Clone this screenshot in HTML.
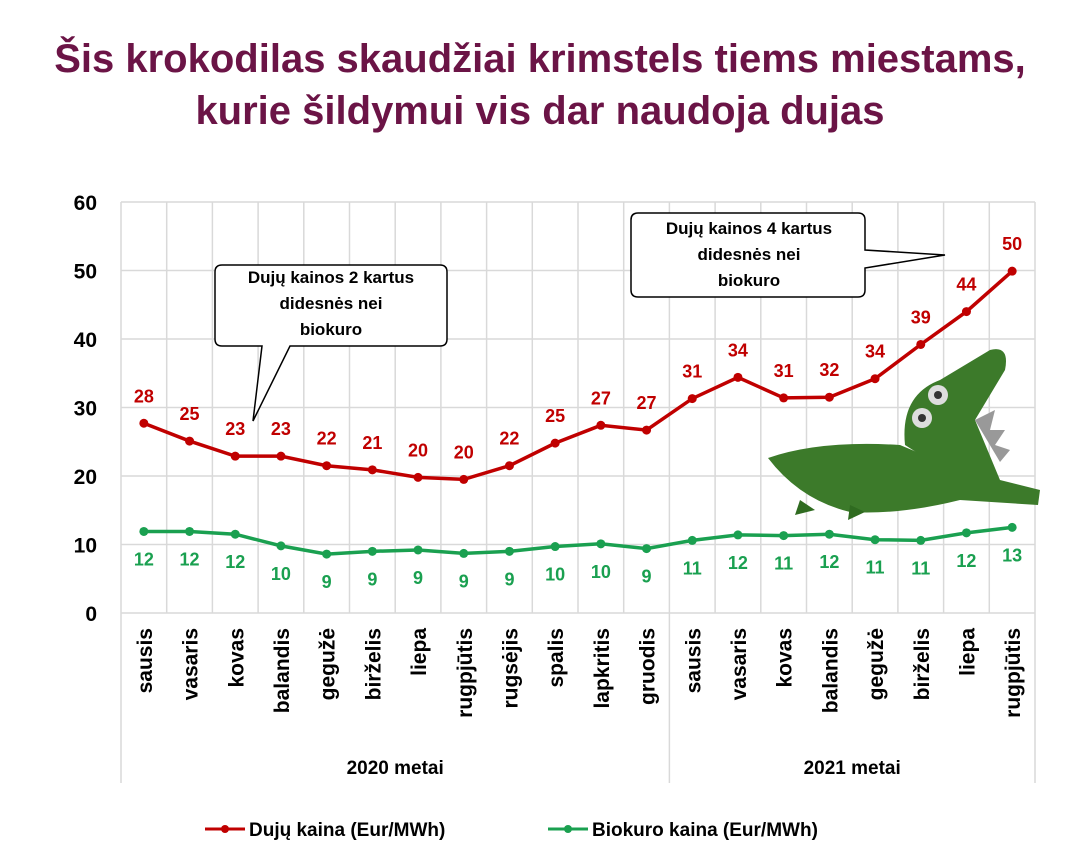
<!DOCTYPE html>
<html><head><meta charset="utf-8"><style>
body{margin:0;background:#fff;font-family:"Liberation Sans",sans-serif}
</style></head><body>
<svg width="1080" height="862" viewBox="0 0 1080 862" xmlns="http://www.w3.org/2000/svg">
<text x="540" y="72" text-anchor="middle" font-size="40" font-weight="bold" fill="#6b1446">Šis krokodilas skaudžiai krimstels tiems miestams,</text>
<text x="540" y="124" text-anchor="middle" font-size="40" font-weight="bold" fill="#6b1446">kurie šildymui vis dar naudoja dujas</text>
<g id="grid"></g><g id="axes"></g><g id="series"></g>
<g>
<path d="M222,265 H440 Q447,265 447,272 V339 Q447,346 440,346 H290 L253,421 L262,346 H222 Q215,346 215,339 V272 Q215,265 222,265 Z" fill="#fff" stroke="#000" stroke-width="1.5"/>
<text x="331" y="283" text-anchor="middle" font-size="17" font-weight="bold">Dujų kainos 2 kartus</text>
<text x="331" y="309" text-anchor="middle" font-size="17" font-weight="bold">didesnės nei</text>
<text x="331" y="335" text-anchor="middle" font-size="17" font-weight="bold">biokuro</text>
</g>
<g>
<path d="M638,213 H858 Q865,213 865,220 V250 L945,255 L865,268 V290 Q865,297 858,297 H638 Q631,297 631,290 V220 Q631,213 638,213 Z" fill="#fff" stroke="#000" stroke-width="1.5"/>
<text x="749" y="234" text-anchor="middle" font-size="17" font-weight="bold">Dujų kainos 4 kartus</text>
<text x="749" y="260" text-anchor="middle" font-size="17" font-weight="bold">didesnės nei</text>
<text x="749" y="286" text-anchor="middle" font-size="17" font-weight="bold">biokuro</text>
</g>
<g>
<path d="M768,458 Q820,440 900,445 L960,470 L1040,490 L1038,505 L960,500 Q900,515 850,512 Q800,500 768,458Z" fill="#3c7a2a"/>
<path d="M905,445 Q900,395 940,380 L990,350 Q1010,345 1005,370 L975,420 L1000,480 L960,480Z" fill="#3c7a2a"/>
<circle cx="938" cy="395" r="10" fill="#ddd"/><circle cx="938" cy="395" r="4" fill="#333"/>
<circle cx="922" cy="418" r="10" fill="#ddd"/><circle cx="922" cy="418" r="4" fill="#333"/>
<path d="M975,420 L995,410 L990,430 L1005,430 L995,445 L1010,450 L1000,462Z" fill="#999"/>
<path d="M800,500 L795,515 L815,510Z M850,505 L848,520 L865,512Z" fill="#2f6b20"/>
</g>
<g>
<line x1="205" y1="829" x2="245" y2="829" stroke="#c00000" stroke-width="3"/><circle cx="225" cy="829" r="4" fill="#c00000"/>
<text x="249" y="836" font-size="19" font-weight="bold">Dujų kaina (Eur/MWh)</text>
<line x1="548" y1="829" x2="588" y2="829" stroke="#1aa050" stroke-width="3"/><circle cx="568" cy="829" r="4" fill="#1aa050"/>
<text x="592" y="836" font-size="19" font-weight="bold">Biokuro kaina (Eur/MWh)</text>
</g>
</svg>
<script>
const categories=["sausis","vasaris","kovas","balandis","gegužė","birželis","liepa","rugpjūtis","rugsėjis","spalis","lapkritis","gruodis","sausis","vasaris","kovas","balandis","gegužė","birželis","liepa","rugpjūtis"];
const gasValues=[27.7,25.1,22.9,22.9,21.5,20.9,19.8,19.5,21.5,24.8,27.4,26.7,31.3,34.4,31.4,31.5,34.2,39.2,44,49.9];
const gasLabels=[28,25,23,23,22,21,20,20,22,25,27,27,31,34,31,32,34,39,44,50];
const bioValues=[11.9,11.9,11.5,9.8,8.6,9.0,9.2,8.7,9.0,9.7,10.1,9.4,10.6,11.4,11.3,11.5,10.7,10.6,11.7,12.5];
const bioLabels=[12,12,12,10,9,9,9,9,9,10,10,9,11,12,11,12,11,11,12,13];
const yTicks=[0,10,20,30,40,50,60];
const groups=["2020 metai","2021 metai"];
const groupSizes=[12,8];
const NS="http://www.w3.org/2000/svg";
const L=121,R=1035,T=202,B=613,YMAX=60;
const step=(R-L)/categories.length;
const x=i=>L+step*(i+0.5);
const y=v=>B-(v/YMAX)*(B-T);
function mk(tag,attrs,parent,txt){const e=document.createElementNS(NS,tag);for(const k in attrs)e.setAttribute(k,attrs[k]);if(txt!=null)e.textContent=txt;parent.appendChild(e);return e;}
const grid=document.getElementById('grid'),axes=document.getElementById('axes'),ser=document.getElementById('series');
yTicks.forEach(t=>{
 const ln=mk('line',{x1:L,x2:R,y1:y(t),y2:y(t),stroke:'#d9d9d9','stroke-width':1.5},grid);
 
 
 const tx=mk('text',{x:97,y:y(t)+8,'text-anchor':'end','font-size':21,'font-weight':'bold'},axes,t);
 
 
});
for(let i=0;i<=categories.length;i++){
 const ln=mk('line',{x1:L+step*i,x2:L+step*i,y1:T,y2:B,stroke:'#d9d9d9','stroke-width':1.5},grid);
 
 
}
categories.forEach((c,i)=>{
 const tx=mk('text',{transform:`translate(${x(i)+8},628) rotate(-90)`,'text-anchor':'end','font-size':21,'font-weight':'bold'},axes,c);
 
 
});
let acc=0;
[0].concat(groupSizes).forEach((g,k)=>{acc+=g;const xx=L+step*acc;
 const ln=mk('line',{x1:xx,x2:xx,y1:B,y2:783,stroke:'#d9d9d9','stroke-width':1.5},grid);
 
 
});
acc=0;groups.forEach((g,k)=>{const cx=L+step*(acc+groupSizes[k]/2);acc+=groupSizes[k];
 const tx=mk('text',{x:cx,y:774,'text-anchor':'middle','font-size':19,'font-weight':'bold'},axes,g);
 
 
});
function series(vals,labs,color,name,off){
 const pl=mk('polyline',{points:vals.map((v,i)=>x(i)+','+y(v)).join(' '),fill:'none',stroke:color,'stroke-width':3.5},ser);
 
 
 vals.forEach((v,i)=>{
  const c=mk('circle',{cx:x(i),cy:y(v),r:4.5,fill:color},ser);
  
  
  const t=mk('text',{x:x(i),y:y(v)+off,'text-anchor':'middle','font-size':18,'font-weight':'bold',fill:color},ser,labs[i]);
  
  
 });
}
series(gasValues,gasLabels,'#c00000','gas',-21);
series(bioValues,bioLabels,'#1aa050','bio',34);
</script>
</body></html>
